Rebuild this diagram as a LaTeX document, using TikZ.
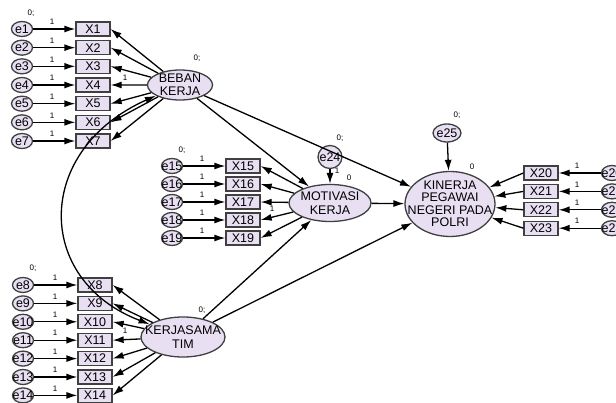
\documentclass[tikz,border=0pt]{standalone}
\usepackage{fontspec}
\setmainfont{Liberation Sans}
\usetikzlibrary{arrows.meta,shapes.geometric}
\definecolor{lav}{HTML}{E8E0F2}
\definecolor{rim}{HTML}{404040}
\tikzset{
  arr/.style={-{Latex[length=11pt,width=7pt]}, line width=1.3pt},
  cov/.style={{Latex[length=11pt,width=7pt]}-{Latex[length=11pt,width=7pt]}, line width=1.3pt},
  lattext/.style={align=center, inner sep=0pt, font=\fontsize{12.5}{13.5}\selectfont},
  latent/.style={ellipse, draw=rim, fill=lav, line width=1.3pt, inner sep=0pt},
  obs/.style={rectangle, draw=rim, fill=lav, line width=1.3pt, minimum width=34pt,
    minimum height=14pt, inner sep=0pt, font=\fontsize{12.5}{13}\selectfont},
  err/.style={ellipse, draw=rim, fill=lav, line width=1.3pt, minimum width=21pt,
    minimum height=15pt, inner sep=0pt, label={[lattext]center:#1}},
  lbl/.style={inner sep=0pt, font=\fontsize{8}{8}\selectfont}
}
\begin{document}
\begin{tikzpicture}[x=1pt, y=-1pt]
\useasboundingbox[fill=white] (0,0) rectangle (616,403);

% latent variables
\node[latent, minimum width=65pt, minimum height=30pt,
  label={[lattext]center:BEBAN\\KERJA}] (beban) at (180,85) {};
\node[latent, minimum width=84pt, minimum height=40pt,
  label={[lattext]center:KERJASAMA\\TIM}] (kerjasama) at (183,337) {};
\node[latent, minimum width=82pt, minimum height=37pt,
  label={[lattext]center:MOTIVASI\\KERJA}] (motivasi) at (330,203) {};
\node[latent, minimum width=90pt, minimum height=65pt,
  label={[lattext, font=\fontsize{12.5}{12.5}\selectfont]center:KINERJA\\PEGAWAI\\NEGERI PADA\\POLRI}] (kinerja) at (450,204) {};
\node[lbl] at (197,58) {0;};
\node[lbl] at (202,310) {0;};
\node[lbl] at (472,167) {0};

% disturbances
\node[err=e24, minimum width=24pt, minimum height=23pt] (e24) at (330,157) {};
\node[err=e25, minimum width=28pt, minimum height=18pt] (e25) at (447,133) {};
\node[lbl] at (340,138) {0;};
\node[lbl] at (457,115) {0;};
\draw[arr] (e24) -- (motivasi);
\node[lbl] at (337,171) {1};
\node[lbl] at (349,178) {0};
\draw[arr] (e25) -- (kinerja);

% BEBAN KERJA indicators
\foreach \i in {1,...,7}{
  \pgfmathsetmacro\yy{29+18.67*(\i-1)}
  \node[err=e\i] (e\i) at (22,\yy) {};
  \node[obs] (x\i) at (93,\yy) {X\i};
  \draw[arr] (e\i) -- (x\i);
  \node[lbl] at (52,\yy-7) {1};
  \draw[arr] (beban) -- (x\i.east);
}
\node[lbl] at (31,13) {0;};
\node[lbl] at (125,78) {1};

% KERJASAMA TIM indicators
\foreach \i in {8,...,14}{
  \pgfmathsetmacro\yy{285+18.4*(\i-8)}
  \node[err=e\i] (e\i) at (23,\yy) {};
  \node[obs] (x\i) at (95,\yy) {X\i};
  \draw[arr] (e\i) -- (x\i);
  \node[lbl] at (55,\yy-7) {1};
  \draw[arr] (kerjasama) -- (x\i.east);
}
\node[lbl] at (33,268) {0;};
\node[lbl] at (125,331) {1};

% MOTIVASI KERJA indicators
\foreach \i in {15,...,19}{
  \pgfmathsetmacro\yy{166+18*(\i-15)}
  \node[err=e\i] (e\i) at (172,\yy) {};
  \node[obs] (x\i) at (243,\yy) {X\i};
  \draw[arr] (e\i) -- (x\i);
  \node[lbl] at (202,\yy-7) {1};
  \draw[arr] (motivasi) -- (x\i.east);
}
\node[lbl] at (182,150) {0;};
\node[lbl] at (272,209) {1};

% KINERJA indicators
\foreach \i in {20,...,23}{
  \pgfmathsetmacro\yy{173+18.4*(\i-20)}
  \node[err=e\i] (e\i) at (612,\yy) {};
  \node[obs] (x\i) at (541,\yy) {X\i};
  \draw[arr] (e\i) -- (x\i);
  \node[lbl] at (577,\yy-7) {1};
  \draw[arr] (x\i.west) -- (kinerja);
}

% structural paths
\draw[arr] (beban) -- (motivasi);
\draw[arr] (kerjasama) -- (motivasi);
\draw[arr] (beban) -- (kinerja);
\draw[arr] (kerjasama) -- (kinerja);
\draw[arr] (motivasi) -- (kinerja);

% covariance
\draw[cov] (beban) .. controls (34,150) and (34,280) .. (kerjasama);
\end{tikzpicture}
\end{document}
